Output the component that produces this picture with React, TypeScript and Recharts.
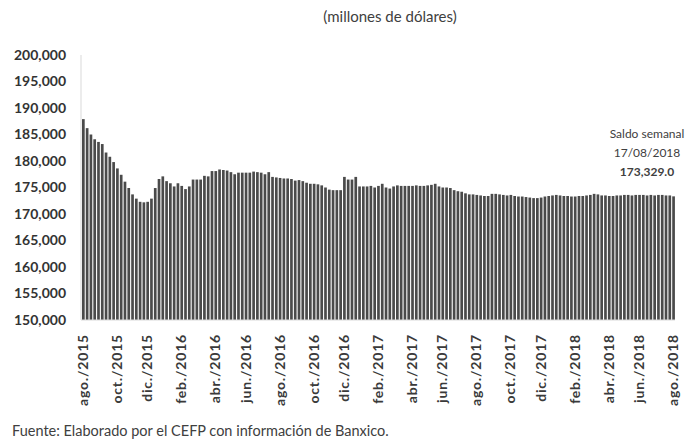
import { BarChart, Bar, XAxis, YAxis } from "recharts";

// Saldo semanal de la reserva internacional (millones de dólares)
const saldo2015 = [
  187900, 186200, 185000, 184100, 183600, 183200, 181600, 180800, 179800, 178600,
  177400, 176100, 174900, 173700, 172900, 172300, 172200, 172300, 172900,
];
const saldo2016 = [
  174900, 176600, 177100, 176200, 175800, 175200, 175800, 175300, 174700, 175200,
  176500, 176500, 176500, 177200, 177100, 178100, 178100, 178400, 178300, 178200,
  177900, 177500, 177800, 177800, 177800, 177800, 178000, 177900, 177800, 177500,
  177900, 177000, 176900, 176800, 176700, 176700, 176600, 176300, 176400, 176200,
  175900, 175700, 175700, 175600, 175400, 175000, 174600, 174500, 174500, 174500,
  177000, 176500, 176500,
];
const saldo2017 = [
  177000, 175200, 175200, 175200, 175300, 175000, 175300, 175700, 175000, 174800,
  175200, 175400, 175300, 175300, 175300, 175300, 175400, 175300, 175300, 175400,
  175500, 175700, 175200, 175000, 175000, 174900, 174500, 174300, 174200, 173900,
  173700, 173700, 173600, 173500, 173400, 173400, 173800, 173800, 173700, 173600,
  173500, 173600, 173400, 173300, 173300, 173200, 173100, 173000, 173000, 173100,
  173300, 173400,
];
const saldo2018 = [
  173500, 173600, 173500, 173400, 173400, 173300, 173300, 173400, 173400, 173500,
  173600, 173800, 173700, 173500, 173500, 173400, 173400, 173500, 173500, 173600,
  173600, 173500, 173600, 173600, 173600, 173500, 173600, 173500, 173600, 173600,
  173500, 173500, 173329,
];

const tickLabels = [
  "ago./2015", "oct./2015", "dic./2015", "feb./2016", "abr./2016", "jun./2016",
  "ago./2016", "oct./2016", "dic./2016", "feb./2017", "abr./2017", "jun./2017",
  "ago./2017", "oct./2017", "dic./2017", "feb./2018", "abr./2018", "jun./2018",
  "ago./2018",
];

const yTicks = [
  150000, 155000, 160000, 165000, 170000, 175000, 180000, 185000, 190000, 195000, 200000,
];

const saldos = [...saldo2015, ...saldo2016, ...saldo2017, ...saldo2018];
const lastWeek = Date.UTC(2018, 7, 17);
const data = saldos.map((saldo, i) => {
  const d = new Date(lastWeek - (saldos.length - 1 - i) * 7 * 86400000);
  return { semana: d.toISOString().slice(0, 10), saldo };
});

// etiquetas del eje cada dos meses, repartidas a lo largo de las semanas
const tickMap: Record<string, string> = {};
tickLabels.forEach((label, k) => {
  const idx = Math.round((k * (data.length - 1)) / (tickLabels.length - 1));
  tickMap[data[idx].semana] = label;
});
const xTicks = Object.keys(tickMap);

const font = "Lato, 'Open Sans', sans-serif";

const MonthTick = ({ x, y, payload }: any) => (
  <text
    x={x}
    y={y + 6}
    transform={`rotate(-90 ${x} ${y + 6})`}
    textAnchor="end"
    dy="0.36em"
    fontSize={14}
    fontWeight={700}
    letterSpacing={0.8}
    fill="#3a3a3a"
    fontFamily={font}
  >
    {tickMap[payload.value]}
  </text>
);

export default function App() {
  return (
    <div
      style={{
        position: "absolute",
        left: 0,
        top: 0,
        width: 687,
        height: 445,
        background: "#fff",
        fontFamily: font,
        overflow: "hidden",
      }}
    >
      <div
        style={{
          position: "absolute",
          left: 290,
          width: 200,
          top: 7,
          textAlign: "center",
          fontSize: 15,
          color: "#404040",
        }}
      >
        (millones de dólares)
      </div>
      <BarChart
        width={687}
        height={445}
        data={data}
        margin={{ top: 55, right: 12, bottom: 45, left: 0 }}
      >
        <XAxis
          dataKey="semana"
          ticks={xTicks}
          interval={0}
          height={80}
          tickLine={false}
          axisLine={{ stroke: "#d9d9d9" }}
          tick={<MonthTick />}
        />
        <YAxis
          domain={[150000, 200000]}
          ticks={yTicks}
          allowDataOverflow
          width={81}
          tickLine={false}
          tickSize={0}
          tickMargin={15}
          axisLine={{ stroke: "#d9d9d9" }}
          tick={{ fontSize: 14, fontWeight: 700, fill: "#333", fontFamily: font }}
          tickFormatter={(v: number) => v.toLocaleString("en-US")}
        />
        <Bar dataKey="saldo" fill="#4a4a4a" barSize={2.7} isAnimationActive={false} />
      </BarChart>
      <div
        style={{
          position: "absolute",
          left: 607,
          width: 80,
          top: 124,
          textAlign: "center",
          fontSize: 12,
          lineHeight: "19px",
          color: "#404040",
        }}
      >
        <div>Saldo semanal</div>
        <div>17/08/2018</div>
        <div style={{ fontWeight: 700 }}>173,329.0</div>
      </div>
      <div
        style={{
          position: "absolute",
          left: 12,
          top: 422,
          fontSize: 14.5,
          color: "#404040",
        }}
      >
        Fuente: Elaborado por el CEFP con información de Banxico.
      </div>
    </div>
  );
}
